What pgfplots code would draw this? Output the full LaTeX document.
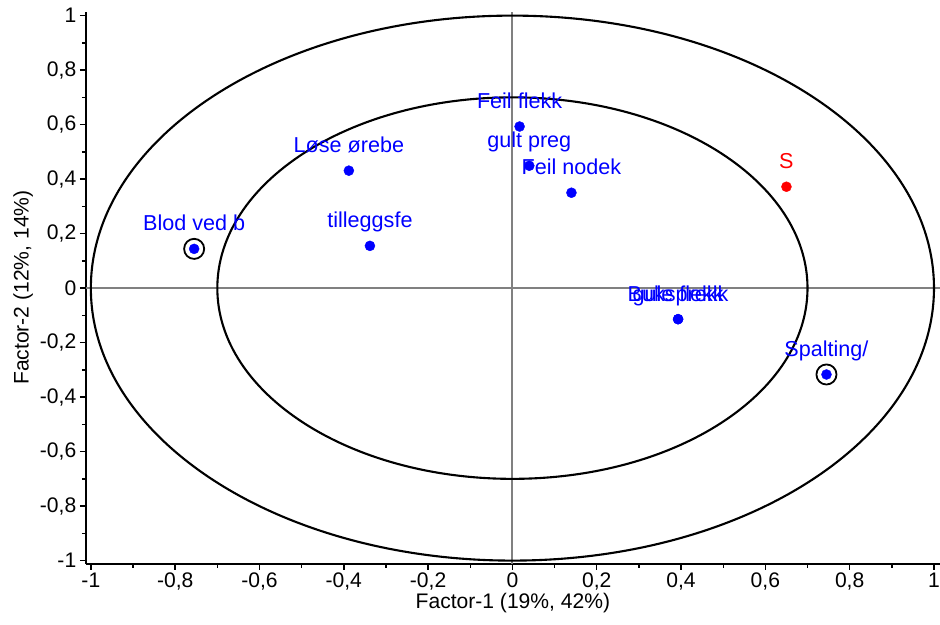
\documentclass[border=0pt]{standalone}
\usepackage{fontspec}
\setmainfont{Liberation Sans}
\usepackage{pgfplots}
\pgfplotsset{compat=1.18}
\definecolor{ptblue}{RGB}{0,0,255}
\definecolor{ptred}{RGB}{255,0,0}
\definecolor{zerogray}{RGB}{128,128,128}
\begin{document}
\begin{tikzpicture}
\begin{axis}[
  scale only axis,
  width=851pt, height=550pt,
  xmin=-1.012, xmax=1.0143,
  ymin=-1.011, ymax=1.015,
  axis x line=bottom, axis y line=left,
  axis line style={-, black, line width=2pt},
  xtick={-1,-0.8,-0.6,-0.4,-0.2,0,0.2,0.4,0.6,0.8,1},
  ytick={-1,-0.8,-0.6,-0.4,-0.2,0,0.2,0.4,0.6,0.8,1},
  minor x tick num=1, minor y tick num=1,
  tick align=outside,
  major tick length=6pt, minor tick length=4pt,
  every tick/.style={black, line width=1.4pt},
  tick label style={font=\fontsize{21}{25}\selectfont},
  /pgf/number format/.cd, use comma, fixed, assume math mode=true,
  /pgfplots/.cd,
  xlabel={Factor-1 (19\%, 42\%)},
  ylabel={Factor-2 (12\%, 14\%)},
  label style={font=\fontsize{21}{25}\selectfont},
  xlabel style={yshift=4pt},
  ylabel style={yshift=0pt},
  clip=false,
  every node near coord/.style={anchor=base, yshift=18pt, font=\fontsize{21.5}{25}\selectfont},
]
% zero lines
\draw[zerogray, line width=2pt] (axis cs:0,-1.011) -- (axis cs:0,1.015);
\draw[zerogray, line width=2pt] (axis cs:-1.012,0) -- (axis cs:1.0143,0);
% 100% and 50% explained variance ellipses
\draw[black, line width=2.1pt] (axis cs:0,0) ellipse [x radius=1, y radius=1];
\draw[black, line width=2.1pt] (axis cs:0,0) ellipse [x radius=0.7, y radius=0.7];
% X-loadings
\addplot[only marks, mark=*, mark size=5pt, color=ptblue,
  mark options={draw=ptblue, fill=ptblue},
  nodes near coords, point meta=explicit symbolic,
  every node near coord/.append style={text=ptblue}]
  table[meta=label, col sep=comma] {
x,y,label
-0.755,0.144,Blod ved b
-0.388,0.431,Løse ørebe
-0.338,0.155,tilleggsfe
0.017,0.593,Feil flekk
0.040,0.449,gult preg
0.140,0.350,Feil nodek
0.393,-0.114,Buksprekk
0.393,-0.114,gule flekk
0.745,-0.317,Spalting/
};
% Y-loading
\addplot[only marks, mark=*, mark size=5pt, color=ptred,
  mark options={draw=ptred, fill=ptred},
  nodes near coords, point meta=explicit symbolic,
  every node near coord/.append style={text=ptred}]
  table[meta=label, col sep=comma] {
x,y,label
0.650,0.372,S
};
% marked samples
\addplot[only marks, mark=o, mark size=10pt, black, mark options={line width=1.8pt}]
  coordinates {(-0.755,0.144) (0.745,-0.317)};
\end{axis}
\pgfresetboundingbox
\useasboundingbox ([xshift=-10pt, yshift=-8pt]current axis.outer south west)
  rectangle ([yshift=5pt]current axis.east |- current axis.outer north east);
\end{tikzpicture}
\end{document}
